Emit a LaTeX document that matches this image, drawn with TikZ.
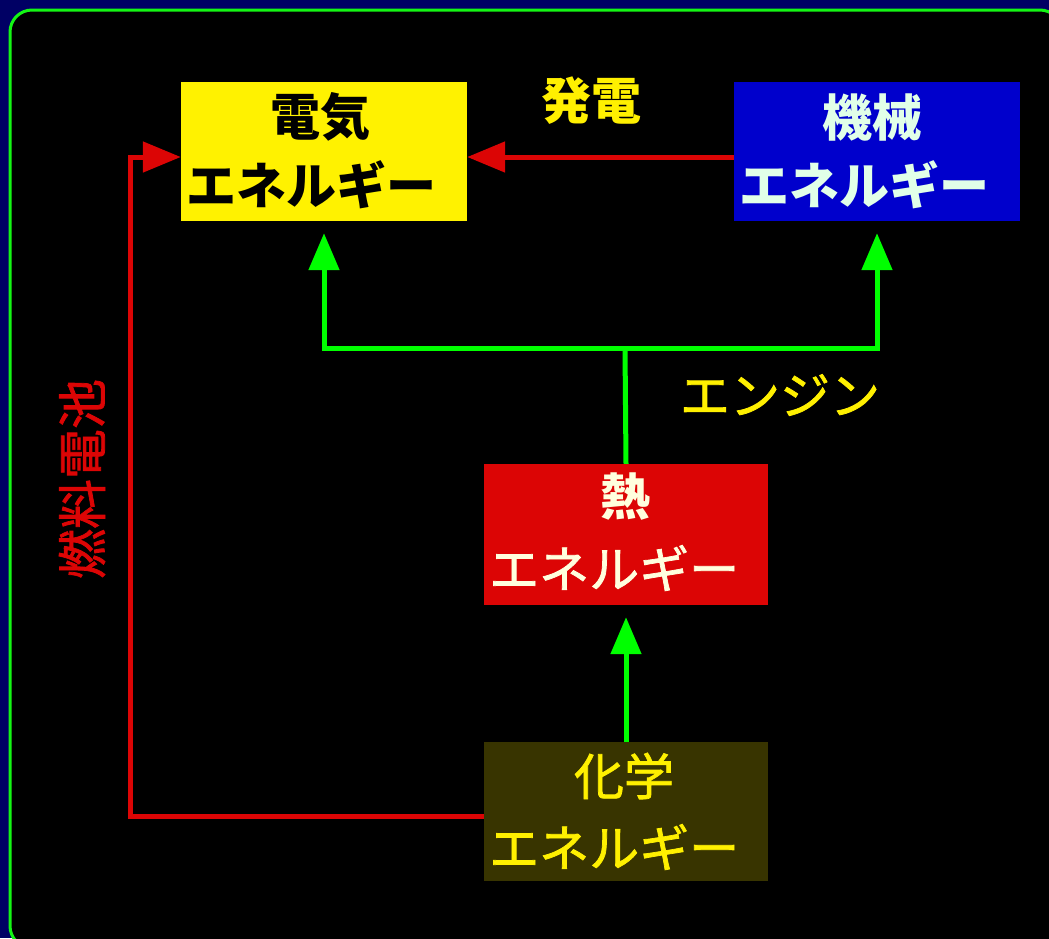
\documentclass[tikz,border=0pt]{standalone}
\usepackage{fontspec}
\newfontfamily\cjk{Noto Sans CJK JP}
\newfontfamily\cjkm[FakeBold=1.5]{Noto Sans CJK JP}
\usetikzlibrary{arrows.meta}
\definecolor{navy}{RGB}{0,0,100}
\definecolor{frameG}{RGB}{20,245,20}
\definecolor{lineG}{RGB}{0,255,0}
\definecolor{lineR}{RGB}{220,5,5}
\definecolor{boxY}{RGB}{255,242,0}
\definecolor{boxB}{RGB}{0,0,204}
\definecolor{boxR}{RGB}{220,5,5}
\definecolor{boxO}{RGB}{56,52,0}
\definecolor{txtY}{RGB}{255,240,0}
\definecolor{txtM}{RGB}{225,255,232}
\definecolor{txtC}{RGB}{255,255,222}
\tikzset{
  ebox/.style={rectangle, inner sep=0pt, minimum width=286pt, minimum height=139pt},
  txt/.style={inner sep=0pt, font=\cjkm\fontsize{50}{50}\selectfont},
  btxt/.style={inner sep=0pt, font=\cjk\bfseries\fontsize{50}{50}\selectfont},
  rarrow/.style={draw=lineR, line width=5pt, -{Triangle[length=38pt,width=30pt,fill=lineR]}},
  garrow/.style={draw=lineG, line width=5pt, -{Triangle[length=37pt,width=30pt,fill=lineG]}, shorten >=12pt},
  gline/.style={draw=lineG, line width=5pt},
}
\begin{document}
\begin{tikzpicture}[x=1pt,y=-1pt]
\useasboundingbox (0,0) rectangle (1049,938);
\fill[navy] (0,0) rectangle (1049,938);
\begin{scope}
\clip (0,0) rectangle (1049,938);
\draw[frameG, line width=3pt, fill=black, rounded corners=22pt] (10,10) rectangle (1062,948);
\end{scope}
% boxes
\node[ebox, fill=boxY] (elec) at (324,151.5) {};
\node[ebox, fill=boxB] (mech) at (877,151.5) {};
\node[ebox, fill=boxR, minimum width=284pt, minimum height=141pt] (heat) at (626,534.5) {};
\node[ebox, fill=boxO, minimum width=284pt] (chem) at (626,811.5) {};
% box texts
\node[btxt, text=black] (elecT) at (320,117) {電気};
\node[btxt, text=black, anchor=west] (elecE) at (186,185) {エネルギー};
\node[btxt, text=txtM] (mechT) at (872,117) {機械};
\node[btxt, text=txtM, anchor=west] (mechE) at (739,185) {エネルギー};
\node[btxt, text=txtC] (heatT) at (625,497) {熱};
\node[txt, text=txtC, anchor=west] (heatE) at (489,568) {エネルギー};
\node[txt, text=txtY] (chemT) at (624,776) {化学};
\node[txt, text=txtY, anchor=west] (chemE) at (489,847) {エネルギー};
% labels
\node[btxt, text=txtY] (hatsuden) at (591,101) {発電};
\node[txt, text=txtY] (engine) at (780,395) {エンジン};
\node[txt, text=lineR, rotate=90] (fuel) at (82,479) {燃料電池};
% connectors
\coordinate (junc) at (625,348);
\coordinate (fcA) at (130,816);
\coordinate (fcB) at (130,157);
\draw[rarrow] ([yshift=-5.5pt]mech.west) -- ([yshift=-5.5pt]elec.east);
\draw[rarrow] ([yshift=-4.5pt]chem.west) -- (fcA) -- (fcB) -- ([yshift=-5.5pt]elec.west);
\draw[gline] (heat.north) -- (junc);
\draw[garrow] (junc) -| (elec.south);
\draw[garrow] (junc) -| (mech.south);
\draw[garrow] (chem.north) -- (heat.south);
\end{tikzpicture}
\end{document}
